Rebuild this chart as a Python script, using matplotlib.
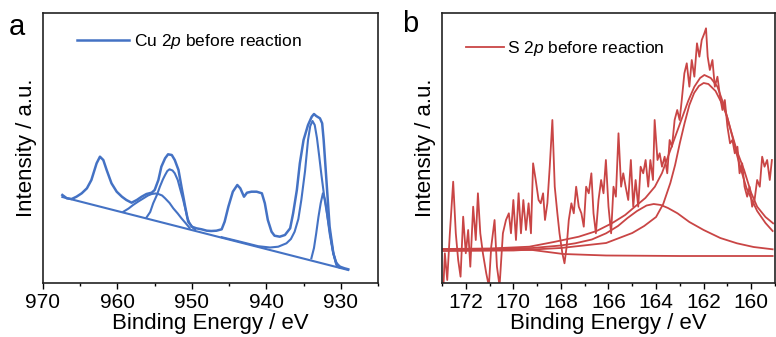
import numpy as np
import matplotlib.pyplot as plt
from matplotlib.ticker import MultipleLocator

plt.rcParams['font.family'] = ['Liberation Sans', 'DejaVu Sans']
plt.rcParams['mathtext.fontset'] = 'custom'
plt.rcParams['mathtext.rm'] = 'Liberation Sans'
plt.rcParams['mathtext.it'] = 'Liberation Sans:italic'

azul = '#4472c4'
rojo = '#c94545'

# Cu 2p - espectro medido
cu_E = [967.4, 966.8, 966.15, 965.5, 964.8, 964.1, 963.5, 962.8, 962.35, 961.9,
        961.45, 960.8, 960.1, 959.4, 958.8, 958.1, 957.4, 956.75, 956.1, 955.4,
        955.0, 954.5, 954.1, 953.6, 953.2, 952.7, 952.3, 951.8, 951.4, 950.9,
        950.5, 950.0, 949.4, 948.7, 948.0, 947.4, 946.7, 946.0, 945.6, 945.1,
        944.5, 943.9, 943.5, 943.0, 942.6, 942.0, 941.3, 940.6, 940.2, 939.8,
        939.3, 938.9, 938.2, 937.5, 936.8, 936.4, 935.9, 935.5, 935.0, 934.4,
        933.9, 933.6, 933.3, 932.8, 932.5, 932.3, 931.9, 931.5, 931.0, 930.6,
        930.1, 929.5, 929.0]
cu_I = [88, 84.7, 84, 86.3, 89.7, 94.7, 103, 119.7, 126.3, 123,
        113, 99.7, 91.3, 86.3, 83, 80.3, 83, 86.3, 89, 90.3,
        93, 103, 116.3, 124.7, 128.7, 128, 123, 113, 96.3, 76.3,
        61.3, 56.3, 54.7, 53.7, 52.3, 52, 52.3, 53.7, 61.3, 76.3,
        91.3, 98, 94.7, 86.3, 90.3, 91.3, 91.3, 89.7, 79.7, 63,
        51.3, 47.3, 46.3, 48, 54.7, 69.7, 93, 119.7, 143, 158,
        166.3, 169, 167, 164.7, 159.7, 143, 99.7, 56.3, 29.7, 19.7,
        16.3, 14.7, 13.7]

# Cu 2p - linea base y componentes del ajuste
cu_base_E = [967.4, 929.0]
cu_base_I = [86, 13]

cu_A_E = [946.0, 944.0, 941.1, 939.5, 938.4, 937.3, 936.7, 936.2, 935.7, 935.3,
          934.8, 934.4, 934.1, 933.8, 933.5, 933.2, 932.9, 932.6, 932.2, 931.7,
          931.3, 931.0, 930.6, 930.2]
cu_A_I = [45.8, 42.2, 36.8, 35.5, 36.3, 39.7, 44, 51.3, 64, 83,
          112, 143, 157, 162, 158, 145, 127, 108, 85, 62,
          43, 30, 18, 15.5]

cu_B_E = [933.95, 933.6, 933.3, 933.0, 932.7, 932.4, 932.1, 931.9, 931.7, 931.5,
          931.2, 931.0, 930.7, 930.4]
cu_B_I = [24.7, 35, 49.7, 66, 79.7, 89.7, 83, 73, 61, 49.7,
          37, 29.7, 22, 18]

cu_C_E = [956.1, 955.6, 955.2, 954.7, 954.3, 953.9, 953.6, 953.3, 953.0, 952.6,
          952.3, 951.9, 951.6, 951.2, 950.9, 950.6, 950.3, 949.9, 949.6]
cu_C_I = [65.5, 71, 79.7, 88, 96.3, 103.5, 108, 112, 113.7, 112.5,
          109.7, 103, 94.7, 84, 74.7, 65, 59.7, 55.5, 53.5]

cu_D_E = [959.2, 958.5, 957.9, 957.2, 956.5, 955.9, 955.4, 954.9, 954.5, 954.0,
          953.6, 953.0, 952.5, 951.9, 951.4, 950.8, 950.3]
cu_D_I = [71.3, 74.5, 78, 81.5, 84.7, 87.5, 89, 89.5, 89, 87.5,
          84.7, 80, 74.7, 69.5, 64.7, 59.5, 55]

# S 2p - espectro medido
s_E = [172.94, 172.88, 172.78, 172.67, 172.53, 172.42, 172.32, 172.22, 172.11, 172.00,
       171.90, 171.81, 171.69, 171.58, 171.49, 171.39, 171.28, 171.14, 171.03, 170.93,
       170.79, 170.69, 170.58, 170.44, 170.31, 170.19, 170.10, 170.00, 169.89, 169.78,
       169.68, 169.58, 169.47, 169.36, 169.26, 169.17, 169.06, 168.94, 168.85, 168.75,
       168.67, 168.57, 168.47, 168.36, 168.26, 168.15, 168.06, 167.94, 167.85, 167.76,
       167.67, 167.56, 167.46, 167.36, 167.25, 167.14, 167.04, 166.94, 166.83, 166.72,
       166.63, 166.53, 166.42, 166.31, 166.21, 166.11, 166.00, 165.89, 165.79, 165.69,
       165.58, 165.47, 165.38, 165.28, 165.17, 165.06, 164.96, 164.86, 164.75, 164.65,
       164.54, 164.44, 164.33, 164.24, 164.13, 164.06, 163.94, 163.85, 163.75, 163.64,
       163.53, 163.43, 163.33, 163.22, 163.11, 163.01, 162.92, 162.81, 162.71, 162.60,
       162.50, 162.39, 162.28, 162.18, 162.08, 161.97, 161.90, 161.83, 161.74, 161.63,
       161.53, 161.42, 161.31, 161.21, 161.11, 161.00, 160.89, 160.79, 160.69, 160.58,
       160.49, 160.38, 160.28, 160.17, 160.07, 159.96, 159.86, 159.75, 159.64, 159.54,
       159.44, 159.33, 159.22, 159.13]
s_I = [-3, 29.7, 3, 49.7, 101.3, 49.7, 23, 6.3, 66.3, 29.7,
       53, 16.3, 76.3, 43, 89.7, 49.7, 29.7, 9.7, -3, 36.3,
       63, 16.3, -3, 49.7, 63, 69.7, 49.7, 83, 43, 89.7,
       49.7, 83, 53, 79.7, 49.7, 119.7, 103, 83, 79.7, 89.7,
       63, 79.7, 116.3, 163, 96.3, 69.7, 49.7, 29.7, 19.7, 36.3,
       63, 79.7, 69.7, 96.3, 76.3, 69.7, 56.3, 96.3, 89.7, 109.7,
       69.7, 49.7, 83, 103, 89.7, 123, 76.3, 49.7, 96.3, 86.3,
       149.7, 96.3, 109.7, 96.3, 83, 123, 76.3, 103, 76.3, 116.3,
       109.7, 123, 96.3, 123, 103, 163, 123, 129.7, 116.3, 126.3,
       109.7, 143, 136.3, 163, 173, 163, 183, 209.7, 219.7, 196.3,
       223, 206.3, 239.7, 226.3, 243, 249.7, 254.7, 226.3, 213, 223,
       196.3, 206.3, 186.3, 173, 183, 156.3, 139.7, 143, 129.7, 136.3,
       109.7, 119.7, 96.3, 86.3, 96.3, 76.3, 83, 103, 96.3, 126.3,
       116.3, 123, 103, 123]

# S 2p - linea base, componentes y envolvente
s_base_E = [172.94, 169.2, 167.9, 166.1, 163.0, 159.1]
s_base_I = [33.7, 33, 29, 27.5, 27, 27]

s_1_E = [172.94, 171.0, 169.2, 168.0, 167.4, 166.7, 166.1, 165.6, 165.2, 164.8,
         164.4, 164.1, 163.8, 163.5, 163.1, 162.6, 162.0, 161.3, 160.6, 159.9, 159.1]
s_1_I = [33.7, 34, 35, 37.5, 39.7, 43.5, 49.7, 57, 65, 72,
         77.5, 79, 78, 75, 69.7, 61, 53, 45, 39.7, 36, 33.7]

s_2_E = [172.94, 170.0, 168.0, 166.1, 165.0, 164.5, 164.0, 163.7, 163.4, 163.2,
         163.0, 162.8, 162.6, 162.4, 162.2, 162.0, 161.8, 161.5, 161.2, 161.0,
         160.8, 160.6, 160.4, 160.2, 159.95, 159.75, 159.4, 159.1]
s_2_I = [32, 32.5, 35, 40, 50, 57, 66, 79, 100, 118,
         140, 160, 178, 190, 197, 200, 199, 192, 178, 165,
         147, 128, 111, 95, 82, 72, 60, 52]

s_env_E = [172.94, 171.0, 169.33, 168.3, 167.25, 166.5, 165.86, 165.3, 164.89, 164.45,
           164.05, 163.75, 163.5, 163.2, 162.94, 162.65, 162.39, 162.15, 161.97, 161.7,
           161.42, 161.15, 160.86, 160.6, 160.3, 160.0, 159.75, 159.4, 159.08]
s_env_I = [34, 34.5, 36.3, 41, 46.3, 52, 59.7, 68, 76.3, 85,
           96.3, 110, 126.3, 146, 163, 182, 196.3, 205, 208, 205,
           196.3, 178, 153, 132, 113, 90, 76.3, 66, 59.7]


fig = plt.figure(figsize=(7.76, 3.37), dpi=100)
axa = fig.add_axes([43/776, 54/337, 335/776, 270/337])
axb = fig.add_axes([442/776, 54/337, 333/776, 270/337])

# panel a
for E, I in [(cu_base_E, cu_base_I), (cu_A_E, cu_A_I), (cu_B_E, cu_B_I),
             (cu_C_E, cu_C_I), (cu_D_E, cu_D_I)]:
    axa.plot(E, I, color=azul, lw=1.5)
axa.plot(cu_E, cu_I, color=azul, lw=1.8, label='Cu 2$\\it{p}$ before reaction')
axa.set_xlim(970, 925)
axa.xaxis.set_major_locator(MultipleLocator(10))
axa.xaxis.set_minor_locator(MultipleLocator(5))
axa.legend(loc='upper left', bbox_to_anchor=(0.10, 0.93), frameon=False, fontsize=12.5,
           handlelength=3.0, handletextpad=0.3, borderpad=0, borderaxespad=0)

# panel b
for E, I in [(s_base_E, s_base_I), (s_1_E, s_1_I), (s_2_E, s_2_I), (s_env_E, s_env_I)]:
    axb.plot(E, I, color=rojo, lw=1.3)
axb.plot(s_E, s_I, color=rojo, lw=1.3, label='S 2$\\it{p}$ before reaction')
axb.set_xlim(173, 159)
axb.xaxis.set_major_locator(MultipleLocator(2))
axb.xaxis.set_minor_locator(MultipleLocator(1))
axb.legend(loc='upper left', bbox_to_anchor=(0.072, 0.905), frameon=False, fontsize=12.5,
           handlelength=2.2, handletextpad=0.15, borderpad=0, borderaxespad=0)

for ax in (axa, axb):
    ax.set_ylim(0, 270)
    ax.set_yticks([])
    ax.set_ylabel('Intensity / a.u.', fontsize=16, labelpad=4)
    ax.set_xlabel('Binding Energy / eV', fontsize=16, labelpad=1)
    ax.tick_params(axis='x', which='major', direction='out', length=4, width=1, labelsize=15, pad=3)
    ax.tick_params(axis='x', which='minor', direction='out', length=2, width=1)
    for s in ax.spines.values():
        s.set_linewidth(1.2)
        s.set_color('#222222')

fig.text(17/776, 1 - 27/337, 'a', fontsize=21, ha='center', va='center')
fig.text(410/776, 1 - 24/337, 'b', fontsize=21, ha='center', va='center')

plt.savefig('out.png', dpi=100)
